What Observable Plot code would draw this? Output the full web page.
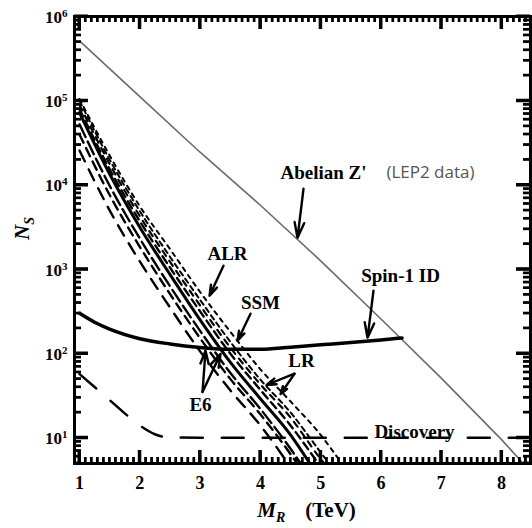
<!DOCTYPE html>
<html><head><meta charset="utf-8">
<script src="https://cdn.jsdelivr.net/npm/d3@7"></script>
<script src="https://cdn.jsdelivr.net/npm/@observablehq/plot@0.6"></script>
<style>body{margin:0;background:#fff}</style>
</head><body><div id="chart"></div>
<script>
// ---------- data ----------
const xA = [1, 1.5, 2, 2.5, 3, 3.5, 4, 4.46];
const modelA = [25700, 5000, 1240, 353, 106, 36.7, 14.0, 4.95];
const xB = [1, 1.5, 2, 2.5, 3, 3.5, 4, 4.5, 4.61];
const modelB = [39800, 7600, 1850, 510, 152, 50, 19, 6.4, 4.95];
const xC = [1, 1.5, 2, 2.5, 3, 3.5, 4, 4.5, 4.67];
const modelC = [52500, 9800, 2320, 630, 186, 59, 22, 7.4, 4.95];
const xD = [1, 1.5, 2, 2.5, 3, 3.5, 4, 4.5, 4.82];
const modelD = [72400, 13500, 3160, 870, 251, 79, 29, 10.8, 4.95];
const xE = [1, 1.5, 2, 2.5, 3, 3.5, 4, 4.5, 4.96];
const modelE = [79400, 15400, 3720, 1050, 316, 100, 37, 14, 4.95];
const xF = [1, 1.5, 2, 2.5, 3, 3.5, 4, 4.5, 5, 5.06];
const modelF = [89000, 17800, 4270, 1230, 372, 118, 43, 17.4, 5.6, 4.95];
const xG = [1, 1.5, 2, 2.5, 3, 3.5, 4, 4.5, 5, 5.14];
const modelG = [100000, 20000, 4900, 1410, 433, 138, 49, 20, 6.7, 4.95];
const xH = [1, 1.5, 2, 2.5, 3, 3.5, 4, 4.5, 5, 5.35];
const modelH = [105000, 22400, 5600, 1740, 537, 182, 65, 27, 10.8, 4.95];

const abelianX = [1, 2, 3, 4, 5, 6, 7, 8, 8.36];
const abelianN = [513000, 112000, 24500, 5750, 1260, 257, 51, 9.5, 4.95];

const spinX = [1, 1.25, 1.5, 2, 2.5, 3, 3.5, 4, 4.5, 5, 5.5, 6, 6.35];
const spinN = [300, 235, 195, 150, 130, 118, 112, 112, 119, 127, 135, 145, 153];

const discX = [1, 1.25, 1.5, 1.75, 2, 2.25, 2.5, 3, 8.48];
const discN = [57, 40, 28, 19.5, 14, 11, 10.1, 10, 10];

const xTickLabels = [1, 2, 3, 4, 5, 6, 7, 8];
const yTickExps = [1, 2, 3, 4, 5, 6];

const labels = [
  {text: "Abelian Z'", x: 5.047, y: 13960, serif: true},
  {text: "(LEP2 data)", x: 6.82, y: 13960, serif: false},
  {text: "Spin-1 ID", x: 6.324, y: 837, serif: true},
  {text: "ALR", x: 3.455, y: 1528, serif: true},
  {text: "SSM", x: 4.002, y: 400, serif: true},
  {text: "E6", x: 3.007, y: 24.7, serif: true},
  {text: "LR", x: 4.682, y: 82, serif: true},
  {text: "Discovery", x: 6.556, y: 11.8, serif: true}
];
const arrows = [
  {x1: 4.715, y1: 9020, x2: 4.616, y2: 2366},
  {x1: 5.876, y1: 556, x2: 5.777, y2: 154},
  {x1: 3.388, y1: 1102, x2: 3.156, y2: 485},
  {x1: 3.836, y1: 297, x2: 3.621, y2: 142},
  {x1: 3.040, y1: 35, x2: 3.090, y2: 108},
  {x1: 3.040, y1: 35, x2: 3.339, y2: 99},
  {x1: 4.566, y1: 57.6, x2: 4.102, y2: 42.3},
  {x1: 4.566, y1: 57.6, x2: 4.334, y2: 33}
];

// ---------- layout ----------
const W = 532, H = 528, ML = 74, MR = 2, MT = 16, MB = 65;
const X0 = 0.917, X1 = 8.48, Y0 = 4.95, Y1 = 1e6;
const serif = "'Liberation Serif','Times New Roman',serif";
const pxPerDecade = (H - MT - MB) / Math.log10(Y1 / Y0);
const xPerPx = (X1 - X0) / (W - ML - MR);
const fy = p => Math.pow(10, p / pxPerDecade);

const series = [
  {xs: xA, v: modelA, dash: "12,9", w: 2.4},
  {xs: xB, v: modelB, dash: "9,6", w: 2.4},
  {xs: xC, v: modelC, dash: "14,5", w: 2.4},
  {xs: xD, v: modelD, dash: null, w: 3},
  {xs: xE, v: modelE, dash: "8,5", w: 2.4},
  {xs: xF, v: modelF, dash: "6,6", w: 2.2},
  {xs: xG, v: modelG, dash: "5,4", w: 2},
  {xs: xH, v: modelH, dash: "4,5", w: 2}
];

const rows = (xs, ys) => ys.map((y, i) => ({x: xs[i], y}));

const xMinor = d3.range(10, 85).filter(i => i % 10 !== 0).map(i => i / 10);
const yMajor = yTickExps.map(e => 10 ** e);
const yMinor = [];
for (let e = 0; e <= 5; e++) for (let m = 2; m <= 9; m++) {
  const v = m * 10 ** e; if (v >= Y0 && v <= Y1) yMinor.push(v);
}

// tick rectangles (filled), sized in px and converted to data units
const hw = px => px / 2 * xPerPx;          // half-width in x units
const tickRects = [];
for (const x of xTickLabels) {
  tickRects.push({x1: x - hw(3), x2: x + hw(3), y1: Y0, y2: Y0 * fy(13)});
  tickRects.push({x1: x - hw(3), x2: x + hw(3), y1: Y1 / fy(13), y2: Y1});
}
for (const x of xMinor) {
  tickRects.push({x1: x - hw(2.2), x2: x + hw(2.2), y1: Y0, y2: Y0 * fy(6)});
  tickRects.push({x1: x - hw(2.2), x2: x + hw(2.2), y1: Y1 / fy(6), y2: Y1});
}
for (const y of yMajor) {
  tickRects.push({x1: X0, x2: X0 + 14 * xPerPx, y1: y / fy(1.5), y2: y * fy(1.5)});
  tickRects.push({x1: X1 - 14 * xPerPx, x2: X1, y1: y / fy(1.5), y2: y * fy(1.5)});
}
for (const y of yMinor) {
  tickRects.push({x1: X0, x2: X0 + 7 * xPerPx, y1: y / fy(1.1), y2: y * fy(1.1)});
  tickRects.push({x1: X1 - 7 * xPerPx, x2: X1, y1: y / fy(1.1), y2: y * fy(1.1)});
}

const chart = Plot.plot({
  width: W, height: H,
  marginLeft: ML, marginRight: MR, marginTop: MT, marginBottom: MB,
  x: {domain: [X0, X1], axis: null},
  y: {type: "log", domain: [Y0, Y1], axis: null},
  marks: [
    Plot.line(rows(abelianX, abelianN), {x: "x", y: "y", stroke: "#6b6b6b", strokeWidth: 1.6}),
    Plot.line(rows(discX, discN), {x: "x", y: "y", stroke: "black", strokeWidth: 2.5, strokeDasharray: "22,19", curve: "monotone-x"}),
    ...series.map(s => Plot.line(rows(s.xs, s.v), {x: "x", y: "y", stroke: "black", strokeWidth: s.w, strokeDasharray: s.dash || undefined, curve: "monotone-x"})),
    Plot.line(rows(spinX, spinN), {x: "x", y: "y", stroke: "black", strokeWidth: 3.5, curve: "monotone-x"}),
    Plot.arrow(arrows, {x1: "x1", y1: "y1", x2: "x2", y2: "y2", stroke: "black", strokeWidth: 2.4, headLength: 10, headAngle: 35}),
    Plot.text(labels.filter(d => d.serif), {x: "x", y: "y", text: "text", fontSize: 19, fontWeight: "bold", fontFamily: serif, fill: "black"}),
    Plot.text(labels.filter(d => !d.serif), {x: "x", y: "y", text: "text", fontSize: 17, fontFamily: "'Open Sans',sans-serif", fill: "#555"}),
    // inward mirrored ticks (rules + filled rects)
    Plot.ruleX(xTickLabels, {x: d => d, y1: Y0, y2: Y0 * fy(13), stroke: "black", strokeWidth: 3}),
    Plot.ruleX(xTickLabels, {x: d => d, y1: Y1, y2: Y1 / fy(13), stroke: "black", strokeWidth: 3}),
    Plot.ruleX(xMinor, {x: d => d, y1: Y0, y2: Y0 * fy(6), stroke: "black", strokeWidth: 2.2}),
    Plot.ruleX(xMinor, {x: d => d, y1: Y1, y2: Y1 / fy(6), stroke: "black", strokeWidth: 2.2}),
    Plot.ruleY(yMajor, {y: d => d, x1: X0, x2: X0 + 14 * xPerPx, stroke: "black", strokeWidth: 3}),
    Plot.ruleY(yMajor, {y: d => d, x1: X1, x2: X1 - 14 * xPerPx, stroke: "black", strokeWidth: 3}),
    Plot.ruleY(yMinor, {y: d => d, x1: X0, x2: X0 + 7 * xPerPx, stroke: "black", strokeWidth: 2.2}),
    Plot.ruleY(yMinor, {y: d => d, x1: X1, x2: X1 - 7 * xPerPx, stroke: "black", strokeWidth: 2.2}),
    Plot.rect(tickRects, {x1: "x1", x2: "x2", y1: "y1", y2: "y2", fill: "black"}),
    Plot.frame({stroke: "black", strokeWidth: 3}),
    Plot.text(xTickLabels, {x: d => d, y: Y0, dy: 20, text: d => String(d), fontSize: 18, fontWeight: "bold", fontFamily: serif, fill: "black"}),
    Plot.text(yTickExps, {x: X0, y: d => 10 ** d, dx: -7, dy: 1, text: d => "10^" + d, textAnchor: "end", fontSize: 17, fontWeight: "bold", fontFamily: serif, fill: "black"}),
    Plot.text(["N_S"], {frameAnchor: "left", dx: -52, text: d => d, rotate: -90, fontSize: 21, fontWeight: "bold", fontFamily: serif, fill: "black"}),
    Plot.text(["M_R (TeV)"], {frameAnchor: "bottom", dy: 53, dx: 4, text: d => d, fontSize: 21, fontWeight: "bold", fontFamily: serif, fill: "black"})
  ]
});

// rich text: superscripts & subscripts
const SVGNS = "http://www.w3.org/2000/svg";
function span(el, txt, attrs) {
  const s = document.createElementNS(SVGNS, "tspan");
  s.textContent = txt;
  for (const k in attrs) s.setAttribute(k, attrs[k]);
  el.appendChild(s);
}
chart.querySelectorAll("text").forEach(t => {
  const s = t.textContent;
  if (/^10\^\d$/.test(s)) {
    t.textContent = "";
    span(t, "10", {});
    span(t, s.slice(3), {dy: "-6", "font-size": "11"});
  } else if (s === "N_S") {
    t.textContent = "";
    span(t, "N", {"font-style": "italic"});
    span(t, "S", {"font-style": "italic", dy: "5", "font-size": "14"});
  } else if (s === "M_R (TeV)") {
    t.textContent = "";
    span(t, "M", {"font-style": "italic"});
    span(t, "R", {"font-style": "italic", dy: "5", "font-size": "14"});
    span(t, "(TeV)", {dy: "-5", dx: "20"});
  }
});
document.getElementById("chart").appendChild(chart);
</script>
</body></html>
